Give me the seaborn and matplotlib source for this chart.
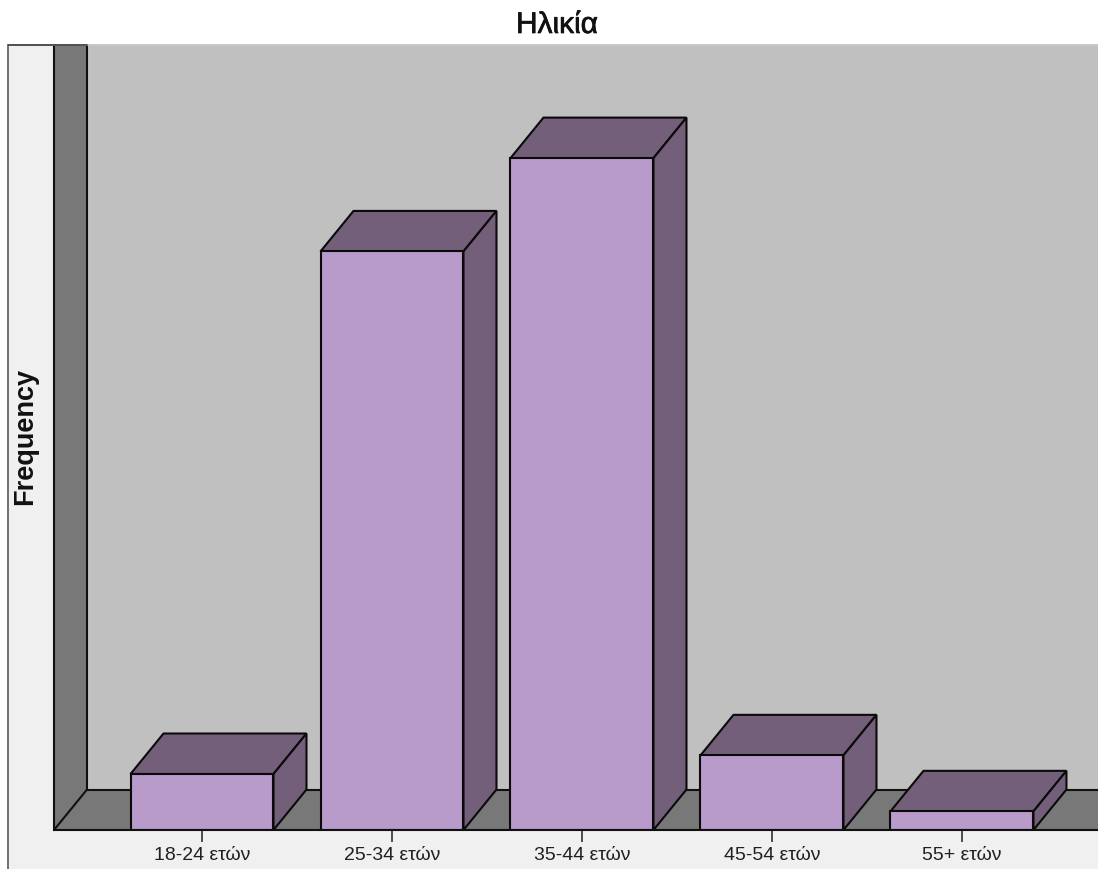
import matplotlib
matplotlib.use("Agg")
import matplotlib.pyplot as plt
from matplotlib.patches import Polygon, Rectangle
import matplotlib.patheffects as pe
import pandas as pd
import seaborn as sns

age_groups = ["18-24 ετών", "25-34 ετών", "35-44 ετών", "45-54 ετών", "55+ ετών"]
frequencies = [15, 155, 180, 20, 5]
chart_title = "Ηλικία"
y_label = "Frequency"

BAR_FACE = "#B89ACB"
BAR_SHADE = "#735F7A"
WALL = "#787878"
BACK = "#C0C0C0"
PANEL = "#F0F0F0"
INK = "#101010"

W, H = 1098, 869
sns.set_theme(style="ticks")
plt.rcParams["font.family"] = ["Liberation Sans", "DejaVu Sans"]

fig = plt.figure(figsize=(W / 100, H / 100), dpi=100, facecolor="white")

# Light panel behind the plot, with its thin grey frame on the left and top
fig.add_artist(Rectangle((8 / W, 0), 1 - 8 / W, 1 - 45 / H, transform=fig.transFigure,
                         facecolor=PANEL, edgecolor="none", zorder=-2))
fig.add_artist(plt.Line2D([8 / W, 8 / W], [0, 1 - 45 / H], transform=fig.transFigure,
                          color="#707070", lw=1.4, zorder=-1))
fig.add_artist(plt.Line2D([8 / W, 1], [1 - 45 / H, 1 - 45 / H], transform=fig.transFigure,
                          color="#C8C8C8", lw=1.4, zorder=3))
fig.add_artist(plt.Line2D([8 / W, 87 / W], [1 - 45 / H, 1 - 45 / H], transform=fig.transFigure,
                          color="#505050", lw=1.4, zorder=3))

ax = fig.add_axes([54 / W, 1 - 830 / H, (W - 54) / W, (830 - 45) / H])
ax.set_facecolor(BACK)

df = pd.DataFrame({"age": age_groups, "freq": frequencies})
sns.barplot(data=df, x="age", y="freq", color=BAR_FACE, saturation=1, width=0.7526,
            edgecolor="#0A0A0A", linewidth=1.5, ax=ax, zorder=5)

x0 = -0.779
x1 = 4.716
y1 = 210.3
ax.set_xlim(x0, x1)
ax.set_ylim(0, y1)

# Depth of the pseudo-3D box, in data units
dx = 33 / 190
dy = 40.5 / (785 / y1)

# Left wall and floor of the box
ax.add_patch(Polygon([(x0, 0), (x0 + dx, dy), (x0 + dx, y1), (x0, y1)], closed=True,
                     facecolor=WALL, edgecolor="none", zorder=1))
ax.add_patch(Polygon([(x0, 0), (x0 + dx, dy), (x1, dy), (x1, 0)], closed=True,
                     facecolor=WALL, edgecolor="none", zorder=1))
ax.plot([x0, x0 + dx, x0 + dx], [0, dy, y1], color=INK, lw=1.5, zorder=2)
ax.plot([x0 + dx, x1], [dy, dy], color=INK, lw=1.5, zorder=2)

# Top and side faces extruded from every front bar
for bar in list(ax.patches):
    if bar.get_zorder() != 5:
        continue
    l, b = bar.get_x(), bar.get_y()
    r, t = l + bar.get_width(), b + bar.get_height()
    ax.add_patch(Polygon([(l, t), (l + dx, t + dy), (r + dx, t + dy), (r, t)], closed=True,
                         facecolor=BAR_SHADE, edgecolor="#0A0A0A", lw=1.5, zorder=4))
    ax.add_patch(Polygon([(r, b), (r + dx, b + dy), (r + dx, t + dy), (r, t)], closed=True,
                         facecolor=BAR_SHADE, edgecolor="#0A0A0A", lw=1.5, zorder=4))

for side in ("top", "right"):
    ax.spines[side].set_visible(False)
ax.spines["left"].set_color(INK)
ax.spines["left"].set_linewidth(1.5)
ax.spines["bottom"].set_color(INK)
ax.spines["bottom"].set_linewidth(1.5)
ax.spines["bottom"].set_zorder(6)

ax.set_yticks([])
ax.set_xlabel("")
ax.set_ylabel("")
ax.tick_params(axis="x", length=8.5, width=1.2, color="#303030", pad=4,
               labelsize=14, labelcolor="#202020")

title = fig.text(557 / W, 1 - 25 / H, chart_title, ha="center", va="center",
                 fontsize=21.5, color="#111111")
title.set_path_effects([pe.withStroke(linewidth=0.5, foreground="#111111")])
fig.text(25 / W, 1 - 436.5 / H, y_label, rotation=90, ha="center", va="center",
         fontsize=19.5, fontweight="bold", color="#111111")

fig.savefig("out.png", dpi=100)
